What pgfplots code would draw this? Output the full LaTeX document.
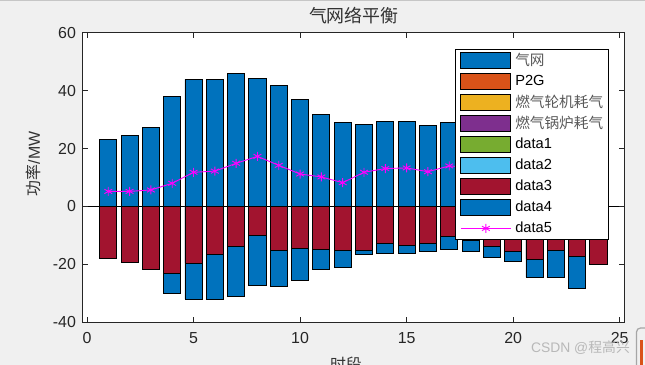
\documentclass[border=0pt]{standalone}
\usepackage{fontspec}
\setmainfont{Liberation Sans}
\newfontfamily\cjk{Noto Sans CJK SC}
\usepackage{pgfplots}
\pgfplotsset{compat=1.18}
\usepackage{pgfplotstable}

\definecolor{mblue}{HTML}{0072BD}
\definecolor{morange}{HTML}{D95319}
\definecolor{myellow}{HTML}{EDB120}
\definecolor{mpurple}{HTML}{7E2F8E}
\definecolor{mgreen}{HTML}{77AC30}
\definecolor{mcyan}{HTML}{4DBEEE}
\definecolor{mred}{HTML}{A2142F}
\definecolor{mmag}{HTML}{FF00FF}
\definecolor{axgray}{HTML}{262626}
\definecolor{bggray}{HTML}{F0F0F0}

% x: period; pos: gas grid supply; d3, d4: negative consumption; net: data5
\pgfplotstableread{
x  pos   d3     d4     net
1  23.2  -17.9   0.0    5.2
2  24.6  -19.2   0.0    5.2
3  27.3  -21.7   0.0    5.7
4  38.0  -23.1  -6.9    8.0
5  43.9  -19.6  -12.4  11.8
6  43.9  -16.5  -15.5  12.2
7  46.0  -13.7  -17.3  14.9
8  44.3  -9.9   -17.3  17.3
9  41.8  -15.1  -12.5  14.2
10 37.0  -14.4  -11.3  11.2
11 31.8  -14.8  -6.9   10.2
12 29.1  -15.1  -5.9    8.2
13 28.4  -15.1  -1.3   11.8
14 29.4  -12.7  -3.4   13.1
15 29.4  -13.4  -2.7   13.3
16 28.0  -12.7  -3.0   12.0
17 29.1  -10.3  -4.7   14.0
18 29.0  -11.7  -3.8   13.5
19 30.0  -13.7  -3.8   12.5
20 29.4  -15.5  -3.4   10.5
21 32.4  -18.2  -6.2    8.0
22 31.4  -15.1  -9.3    7.0
23 34.2  -17.2  -11.0   6.0
24 24.9  -19.9   0.0    5.0
}\gasdata

\pgfplotsset{
  mybar/.style={draw=black, line width=0.9bp,
    legend image code/.code={\draw[##1] (0bp,-8bp) rectangle (50bp,8bp);}},
  myline/.style={mmag, line width=0.9bp, mark=asterisk, mark size=4.5bp,
    mark options={solid, line width=0.9bp},
    legend image code/.code={\draw[mark repeat=2,mark phase=2,##1] plot coordinates {(0bp,0bp) (25bp,0bp) (50bp,0bp)};}},
  mybars/.style={ybar, bar width=0.8, bar shift=0pt, draw=black, line width=0.9bp, forget plot},
}

\begin{document}
\begin{tikzpicture}
\useasboundingbox (0bp,0bp) rectangle (645bp,365bp);
\fill[bggray] (0bp,0bp) rectangle (645bp,365bp);
\clip (0bp,0bp) rectangle (645bp,365bp);
\draw[gray!45, line width=1bp] (0bp,364bp) -- (645bp,364bp);
\begin{axis}[
  at={(82.7bp,42.7bp)}, anchor=south west,
  width=541.3bp, height=289.6bp, scale only axis,
  xmin=-0.2, xmax=25.2, ymin=-40, ymax=60,
  xtick={0,5,...,25}, ytick={-40,-20,...,60},
  xtick pos=both, ytick pos=both, tick align=inside,
  major tick length=5bp,
  axis line style={draw=axgray, line width=0.8bp},
  tick style={draw=axgray, line width=0.8bp},
  ticklabel style={font=\fontsize{16}{18}\selectfont, text=axgray},
  xticklabel style={yshift=-7bp},
  yticklabel style={xshift=-3.3bp},
  /pgf/number format/assume math mode=true,
  axis background/.style={fill=white},
  extra y ticks={0}, extra y tick labels={},
  extra y tick style={grid=major, major grid style={black, line width=0.8bp}},
  title={气网络平衡},
  title style={at={(axis description cs:0.501,1.04)}, anchor=center,
    font=\cjk\fontsize{18}{20}\selectfont, text=black!80},
  ylabel={{\cjk 功率}/MW},
  ylabel style={at={(axis description cs:-0.0905,0.547)}, anchor=center,
    font=\fontsize{16}{18}\selectfont, text=black!80},
  xlabel={时段},
  xlabel style={at={(axis description cs:0.4864,-0.144)}, anchor=center,
    font=\cjk\fontsize{16}{18}\selectfont, text=black!80},
  legend style={at={(0.6878,0.9437)}, anchor=north west, draw=black, line width=0.8bp,
    fill=white, font=\fontsize{14.7}{16}\selectfont, text=black,
    inner xsep=5bp, inner ysep=0.5bp, row sep=0pt, column sep=4bp,
    nodes={inner sep=0pt, minimum height=21bp}},
  legend cell align=left,
]
\addplot[mybars, fill=mblue] table[x=x, y=pos] {\gasdata};
\addplot[mybars, fill=mblue] table[x=x, y expr=\thisrow{d3}+\thisrow{d4}] {\gasdata};
\addplot[mybars, fill=mred] table[x=x, y=d3] {\gasdata};
\addplot[myline, forget plot] table[x=x, y=net] {\gasdata};

\addlegendimage{mybar, fill=mblue}
\addlegendentry{\textcolor{black!65}{\cjk 气网}}
\addlegendimage{mybar, fill=morange}
\addlegendentry{P2G}
\addlegendimage{mybar, fill=myellow}
\addlegendentry{\textcolor{black!65}{\cjk 燃气轮机耗气}}
\addlegendimage{mybar, fill=mpurple}
\addlegendentry{\textcolor{black!65}{\cjk 燃气锅炉耗气}}
\addlegendimage{mybar, fill=mgreen}
\addlegendentry{data1}
\addlegendimage{mybar, fill=mcyan}
\addlegendentry{data2}
\addlegendimage{mybar, fill=mred}
\addlegendentry{data3}
\addlegendimage{mybar, fill=mblue}
\addlegendentry{data4}
\addlegendimage{myline}
\addlegendentry{data5}
\end{axis}
\node[text=gray!60, opacity=0.9, font=\fontsize{13.9}{15}\selectfont, anchor=center]
  at (580.5bp,17bp) {CSDN @{\cjk 程高兴}};
\draw[gray!70, line width=1.2bp, rounded corners=4bp] (636.5bp,-5bp) rectangle (652bp,37bp);
\fill[morange] (639.5bp,0bp) rectangle (643bp,25bp);
\end{tikzpicture}
\end{document}
